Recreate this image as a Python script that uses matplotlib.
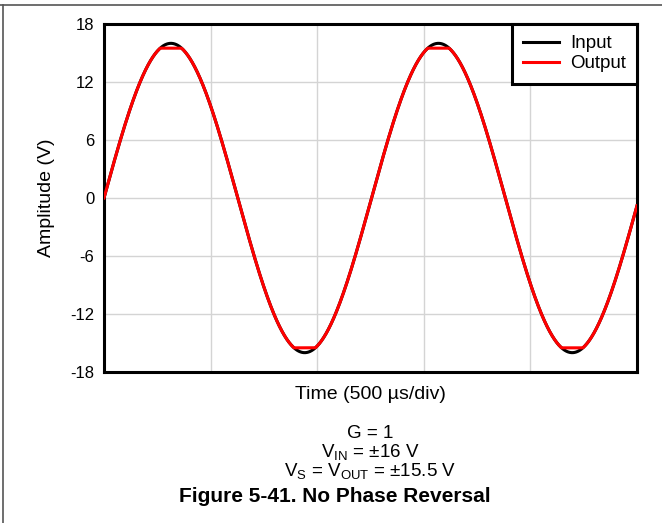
import numpy as np
import matplotlib
matplotlib.use("Agg")
import matplotlib.pyplot as plt
from matplotlib.lines import Line2D

plt.rcParams["font.family"] = ["Liberation Sans", "DejaVu Sans"]
plt.rcParams["mathtext.fontset"] = "custom"
plt.rcParams["mathtext.rm"] = "Liberation Sans"
plt.rcParams["axes.unicode_minus"] = False

# 신호 파라미터
vin_peak = 16.0          # V
vout_limit = 15.5        # V (출력 클립)
period_us = 1255.0       # µs
time_span_us = 2500.0    # 5 div x 500 µs
y_ticks = [-18, -12, -6, 0, 6, 12, 18]
x_grid = [0, 500, 1000, 1500, 2000, 2500]
series_names = ["Input", "Output"]
series_colors = ["#000000", "#ff0000"]

t = np.linspace(0, time_span_us, 2000)
v_in = vin_peak * np.sin(2 * np.pi * t / period_us)
v_out = np.clip(v_in, -vout_limit, vout_limit)

fig = plt.figure(figsize=(6.62, 5.23), dpi=100)
ax = fig.add_axes([104 / 662, 1 - 372 / 523, 533 / 662, 348 / 523])

ax.plot(t, v_in, color=series_colors[0], lw=2.2, label=series_names[0], zorder=3)
ax.plot(t, v_out, color=series_colors[1], lw=2.2, label=series_names[1], zorder=4)

ax.set_xlim(0, time_span_us)
ax.set_ylim(-18, 18)
ax.set_yticks(y_ticks)
ax.set_xticks(x_grid)
ax.set_xticklabels([])
ax.tick_params(length=0, labelsize=12, pad=7)
ax.grid(True, color="#d4d4d4", lw=1)
ax.set_axisbelow(True)
for sp in ax.spines.values():
    sp.set_linewidth(2.2)

ax.set_ylabel("Amplitude (V)", fontsize=14, labelpad=11)
ax.set_xlabel("Time (500 µs/div)", fontsize=14, labelpad=3)

leg = ax.legend(loc="upper right", bbox_to_anchor=(1.0, 1.0), fontsize=13.5,
                frameon=True, fancybox=False, framealpha=1, edgecolor="black",
                handlelength=1.9, borderaxespad=0, borderpad=0.6,
                labelspacing=0.15, handletextpad=0.6)
leg.get_frame().set_linewidth(2.2)

# 캡션
cx = (104 + 637) / 2 / 662
fig.text(cx, 1 - 434 / 523, "G = 1", ha="center", va="center", fontsize=13.5)
fig.text(cx, 1 - 453 / 523, r"V$_\mathregular{IN}$ = ±16 V",
         ha="center", va="center", fontsize=13.5)
fig.text(cx, 1 - 472 / 523, r"V$_\mathregular{S}$ = V$_\mathregular{OUT}$ = ±15.5 V",
         ha="center", va="center", fontsize=13.5)
fig.text(335 / 662, 1 - 497 / 523, "Figure 5-41. No Phase Reversal",
         ha="center", va="center", fontsize=15, fontweight="bold")

# 바깥 테두리 (위, 왼쪽)
fig.add_artist(Line2D([0, 1], [1 - 5 / 523] * 2, color="#555555", lw=1.2))
fig.add_artist(Line2D([3 / 662] * 2, [0, 1 - 5 / 523], color="#555555", lw=1.2))

fig.savefig("out.png", dpi=100)
